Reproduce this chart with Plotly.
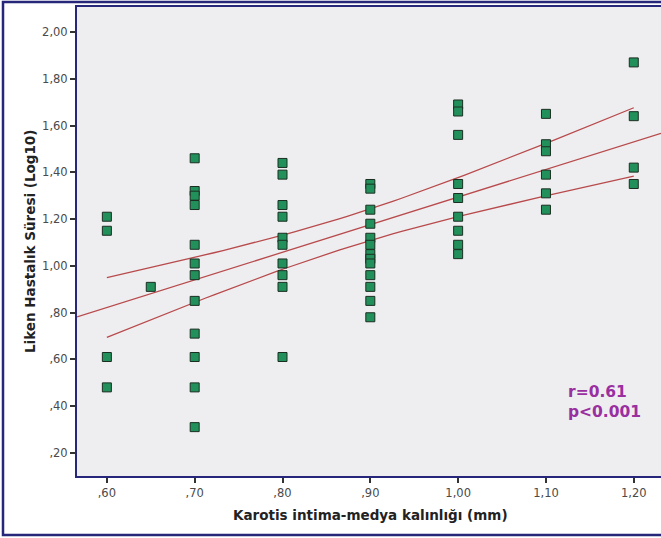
import numpy as np
import plotly.graph_objects as go

# ---- data ----
x_060 = [1.21, 1.15, 0.61, 0.48]
x_065 = [0.91]
x_070 = [1.46, 1.32, 1.30, 1.26, 1.09, 1.01, 0.96, 0.85, 0.71, 0.61, 0.48, 0.31]
x_080 = [1.44, 1.39, 1.26, 1.21, 1.12, 1.09, 1.01, 0.96, 0.91, 0.61]
x_090 = [1.35, 1.33, 1.24, 1.18, 1.12, 1.09, 1.05, 1.03, 1.01, 0.96, 0.91, 0.85, 0.78]
x_100 = [1.69, 1.66, 1.56, 1.35, 1.29, 1.21, 1.15, 1.09, 1.05]
x_110 = [1.65, 1.52, 1.49, 1.39, 1.31, 1.24]
x_120 = [1.87, 1.64, 1.42, 1.35]

groups = {0.60: x_060, 0.65: x_065, 0.70: x_070, 0.80: x_080,
          0.90: x_090, 1.00: x_100, 1.10: x_110, 1.20: x_120}

x_tickvals = [0.6, 0.7, 0.8, 0.9, 1.0, 1.1, 1.2]
x_ticktext = [",60", ",70", ",80", ",90", "1,00", "1,10", "1,20"]
y_tickvals = [0.2, 0.4, 0.6, 0.8, 1.0, 1.2, 1.4, 1.6, 1.8, 2.0]
y_ticktext = [",20", ",40", ",60", ",80", "1,00", "1,20", "1,40", "1,60", "1,80", "2,00"]

stats_text = "r=0.61<br>p<0.001"
x_title = "Karotis intima-medya kalınlığı (mm)"
y_title = "Liken Hastalık Süresi (Log10)"

x_range = [0.566, 1.231]
y_range = [0.101, 2.107]

# ---- build arrays ----
xs = np.array([k for k, v in groups.items() for _ in v], dtype=float)
ys = np.array([y for v in groups.values() for y in v], dtype=float)

# linear fit and 95% CI of the mean
n = len(xs)
slope, intercept = np.polyfit(xs, ys, 1)
resid = ys - (slope * xs + intercept)
s = np.sqrt(np.sum(resid ** 2) / (n - 2))
xbar = xs.mean()
sxx = np.sum((xs - xbar) ** 2)
t_crit = 2.0017

line_x = np.array(x_range)
line_y = slope * line_x + intercept
ci_x = np.linspace(xs.min(), xs.max(), 60)
ci_fit = slope * ci_x + intercept
ci_half = t_crit * s * np.sqrt(1 / n + (ci_x - xbar) ** 2 / sxx)

line_color = "#B84A4C"
navy = "#26267A"

fig = go.Figure()
fig.add_trace(go.Scatter(x=line_x, y=line_y, mode="lines",
                         line=dict(color=line_color, width=1.3), hoverinfo="skip"))
fig.add_trace(go.Scatter(x=ci_x, y=ci_fit + ci_half, mode="lines",
                         line=dict(color=line_color, width=1.3), hoverinfo="skip"))
fig.add_trace(go.Scatter(x=ci_x, y=ci_fit - ci_half, mode="lines",
                         line=dict(color=line_color, width=1.3), hoverinfo="skip"))
fig.add_trace(go.Scatter(x=xs, y=ys, mode="markers",
                         marker=dict(symbol="square", size=9, color="#22905A",
                                     line=dict(color="#1B2E22", width=1))))

fig.update_layout(
    width=661, height=538,
    margin=dict(l=77, r=0, t=7, b=62),
    paper_bgcolor="white", plot_bgcolor="#EEEEF0",
    showlegend=False,
    font=dict(family="DejaVu Sans", color="#4A4A4A", size=11),
    xaxis=dict(range=x_range, tickvals=x_tickvals, ticktext=x_ticktext,
               showgrid=False, zeroline=False,
               showline=True, linecolor=navy, linewidth=2, mirror=True,
               ticks="outside", ticklen=5, tickcolor="#333333", tickwidth=1.5,
               tickfont=dict(size=11.5, color="#4A4A4A")),
    yaxis=dict(range=y_range, tickvals=y_tickvals, ticktext=y_ticktext,
               showgrid=False, zeroline=False,
               showline=True, linecolor=navy, linewidth=2,
               ticks="outside", ticklen=5, tickcolor="#333333", tickwidth=1.5,
               tickfont=dict(size=11.5, color="#4A4A4A")),
    annotations=[
        dict(text="<b>" + x_title + "</b>", xref="paper", yref="paper",
             x=(370 - 77) / 584, y=-(515 - 476) / 469, xanchor="center", yanchor="middle",
             showarrow=False, font=dict(size=13.5, color="#222222", family="DejaVu Sans")),
        dict(text="<b>" + y_title + "</b>", xref="paper", yref="paper",
             x=(30 - 77) / 584, y=(476 - 242) / 469, xanchor="center", yanchor="middle",
             textangle=-90, showarrow=False,
             font=dict(size=13.5, color="#222222", family="DejaVu Sans")),
        dict(text="<b>" + stats_text + "</b>", xref="paper", yref="paper",
             x=(566 - 77) / 584, y=(476 - 402) / 469, xanchor="left", yanchor="middle",
             align="left", showarrow=False,
             font=dict(size=15.5, color="#9A2FA0", family="DejaVu Sans")),
    ],
    shapes=[
        dict(type="rect", xref="paper", yref="paper",
             x0=(3 - 77) / 584, x1=1.1, y0=-(535 - 476) / 469, y1=1 + (7 - 2) / 469,
             line=dict(color=navy, width=2.5), fillcolor="rgba(0,0,0,0)", layer="below"),
    ],
)

fig.write_html("out.html", config={"displayModeBar": False},
               post_script="document.body.style.margin='0';document.body.style.padding='0';")
